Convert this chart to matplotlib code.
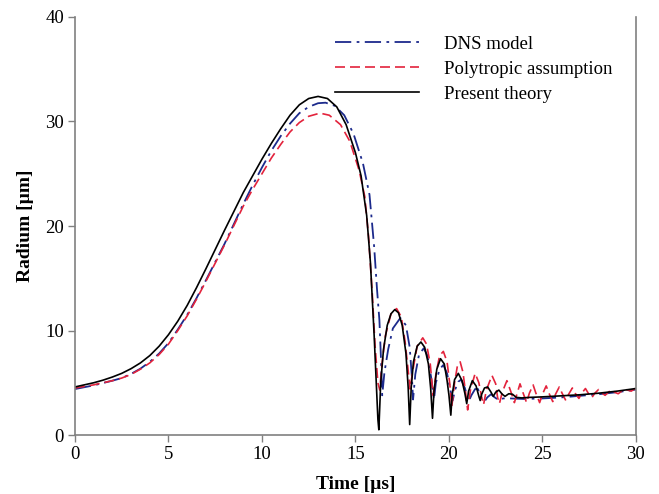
import matplotlib
matplotlib.use("Agg")
import matplotlib.pyplot as plt

# ---- Present theory (black) ----
t_present = [0.0, 1.0, 1.5, 2.0, 2.5, 3.0, 3.5, 4.0, 4.5, 5.0, 5.5, 6.0, 6.5, 7.0, 8.0, 9.0, 9.5, 10.0,
             10.5, 11.0, 11.5, 12.0, 12.5, 13.0, 13.5, 14.0, 14.5, 15.0, 15.3, 15.6, 15.8,
             16.0, 16.1, 16.2, 16.25,
             16.35, 16.5, 16.7, 16.9, 17.1, 17.3, 17.5, 17.7, 17.82, 17.9,
             17.98, 18.1, 18.3, 18.5, 18.7, 18.9, 19.02, 19.12,
             19.2, 19.35, 19.55, 19.75, 19.9, 20.0, 20.1,
             20.17, 20.3, 20.5, 20.7, 20.85, 20.95,
             21.05, 21.25, 21.45, 21.6, 21.67,
             21.75, 21.9, 22.07, 22.25, 22.37,
             22.5, 22.67, 22.85, 23.0, 23.2, 23.4, 23.6, 23.9, 24.3,
             25.0, 26.0, 27.0, 28.0, 29.0, 30.0]
r_present = [4.6, 5.0, 5.25, 5.55, 5.9, 6.35, 6.9, 7.6, 8.5, 9.6, 10.9, 12.4, 14.1, 15.9, 19.6, 23.2, 24.8, 26.4,
             27.9, 29.3, 30.6, 31.6, 32.2, 32.4, 32.2, 31.4, 29.7, 27.0, 24.8, 21.0, 16.5,
             9.5, 5.5, 1.5, 0.5,
             5.0, 8.2, 10.5, 11.6, 12.0, 11.7, 10.5, 7.8, 4.5, 1.0,
             4.5, 7.0, 8.5, 8.9, 8.4, 6.8, 4.5, 1.6,
             4.2, 6.3, 7.3, 6.8, 5.2, 3.8, 1.9,
             3.8, 5.3, 5.9, 5.2, 4.0, 3.0,
             4.2, 5.2, 4.7, 3.7, 3.3,
             3.9, 4.5, 4.6, 4.1, 3.7,
             4.1, 4.3, 3.9, 3.7, 3.95, 3.9, 3.6, 3.55, 3.6,
             3.65, 3.75, 3.85, 4.0, 4.2, 4.45]

# ---- Polytropic assumption (red) ----
t_poly = [0.0, 1.0, 2.0, 2.5, 3.0, 3.5, 4.0, 4.5, 5.0, 5.5, 6.0, 6.5, 7.0, 8.0, 9.0, 9.5, 10.0, 10.5, 11.0, 11.5,
          12.0, 12.5, 13.1, 13.6, 14.2, 14.7, 15.2, 15.5, 15.7, 15.9, 16.05, 16.2, 16.3,
          16.4, 16.6, 16.9, 17.2, 17.45, 17.65, 17.8, 17.92,
          18.05, 18.3, 18.6, 18.8, 19.0, 19.15,
          19.3, 19.5, 19.7, 19.9, 20.05, 20.15,
          20.3, 20.45, 20.6, 20.75, 20.9, 21.0,
          21.15, 21.4, 21.6, 21.75, 21.85,
          22.0, 22.3, 22.5, 22.6, 22.7,
          22.85, 23.1, 23.3, 23.5,
          23.65, 23.8, 23.95, 24.15,
          24.3, 24.5, 24.65, 24.85,
          25.0, 25.2, 25.35, 25.55,
          25.7, 25.9, 26.05, 26.25,
          26.4, 26.6, 26.75, 26.95,
          27.1, 27.3, 27.45, 27.65,
          27.8, 28.0, 28.15, 28.35,
          28.5, 28.7, 28.85, 29.05,
          29.2, 29.4, 29.55, 29.75, 30.0]
r_poly = [4.5, 4.8, 5.2, 5.45, 5.8, 6.3, 6.9, 7.7, 8.7, 10.0, 11.4, 13.0, 14.7, 18.2, 21.9, 23.5, 25.0, 26.5, 27.8, 29.0,
          29.9, 30.5, 30.8, 30.6, 29.7, 28.1, 25.3, 22.8, 19.0, 13.5, 8.5, 5.0, 4.3,
          6.5, 9.5, 11.6, 12.1, 11.3, 9.0, 6.5, 4.4,
          6.0, 8.5, 9.3, 8.7, 6.8, 3.8,
          5.8, 7.6, 8.0, 7.0, 4.8, 2.7,
          5.0, 6.6, 7.0, 6.0, 3.9, 2.4,
          4.3, 5.9, 5.0, 3.6, 2.9,
          4.3, 5.7, 4.9, 3.6, 3.0,
          4.1, 5.2, 4.2, 3.1,
          4.0, 4.9, 4.1, 3.1,
          4.0, 4.8, 4.0, 3.1,
          3.9, 4.7, 4.0, 3.2,
          3.9, 4.6, 4.0, 3.3,
          3.9, 4.5, 4.0, 3.5,
          4.0, 4.45, 4.0, 3.6,
          4.0, 4.35, 4.05, 3.8,
          4.05, 4.35, 4.1, 3.95,
          4.15, 4.4, 4.3, 4.2, 4.5]

# ---- DNS model (blue) ----
t_dns = [0.0, 1.0, 2.0, 2.5, 3.0, 3.5, 4.0, 4.5, 5.0, 5.5, 6.0, 6.5, 7.0, 8.0, 9.0, 9.5, 10.0, 10.5, 11.0, 11.5,
         12.0, 12.5, 13.0, 13.4, 13.9, 14.4, 14.9, 15.4, 15.75, 16.0, 16.15, 16.28, 16.36, 16.43,
         16.55, 16.75, 17.0, 17.4, 17.7, 17.9, 18.02, 18.08,
         18.2, 18.4, 18.65, 18.85, 19.05, 19.2,
         19.3, 19.5, 19.7, 19.9, 20.08, 20.2,
         20.32, 20.5, 20.65, 20.85, 21.05,
         21.2, 21.4, 21.55, 21.75, 21.9,
         22.05, 22.25, 22.45, 22.65, 22.9, 23.3, 24.0, 25.0, 26.0, 27.0, 28.0, 29.0, 30.0]
r_dns = [4.4, 4.75, 5.2, 5.45, 5.85, 6.35, 7.0, 7.8, 8.8, 10.1, 11.5, 13.1, 14.8, 18.3, 22.1, 23.9, 25.6, 27.2, 28.6, 29.8,
         30.8, 31.4, 31.75, 31.8, 31.5, 30.6, 28.8, 26.0, 23.0, 18.0, 14.0, 11.0, 7.5, 3.8,
         6.0, 8.2, 10.2, 11.2, 10.5, 8.4, 5.5, 3.4,
         5.8, 7.7, 8.3, 7.6, 5.5, 3.4,
         5.0, 6.3, 6.7, 5.9, 4.3, 3.3,
         4.3, 5.1, 5.3, 4.5, 3.2,
         3.8, 4.4, 4.4, 3.5, 3.2,
         3.6, 3.9, 3.6, 3.35, 3.5, 3.5, 3.45, 3.5, 3.6, 3.75, 3.9, 4.1, 4.35]

x_ticks = [0, 5, 10, 15, 20, 25, 30]
y_ticks = [0, 10, 20, 30, 40]

plt.rcParams['font.family'] = ['Liberation Serif', 'DejaVu Serif']

fig = plt.figure(figsize=(6.59, 4.94), dpi=100)
ax = fig.add_axes([0.1138, 0.1194, 0.8512, 0.8462])

ax.plot(t_dns, r_dns, color='#1c2a8c', lw=1.3, dashes=(9, 3, 1.5, 3), label='DNS model')
ax.plot(t_poly, r_poly, color='#e3233c', lw=1.2, dashes=(6, 3), label='Polytropic assumption')
ax.plot(t_present, r_present, color='black', lw=1.2, label='Present theory')

ax.set_xlim(0, 30)
ax.set_ylim(0, 40)
ax.set_xticks(x_ticks)
ax.set_yticks(y_ticks)
ax.tick_params(direction='out', length=5, width=1, color='#808080', labelsize=13.5, pad=3)

for s in ['left', 'bottom', 'right']:
    ax.spines[s].set_color('#808080')
    ax.spines[s].set_linewidth(1.2)
ax.spines['top'].set_visible(False)

ax.set_xlabel('Time [\u00b5s]', fontsize=14, fontweight='bold', labelpad=9.5)
ax.set_ylabel('Radium [\u00b5m]', fontsize=14, fontweight='bold', labelpad=8)

leg = ax.legend(loc='upper left', bbox_to_anchor=(0.4635, 0.955), frameon=False,
                borderpad=0, borderaxespad=0,
                fontsize=13.5, handlelength=4.5, handletextpad=1.3, labelspacing=0.42)

fig.savefig('out.png', dpi=100)
